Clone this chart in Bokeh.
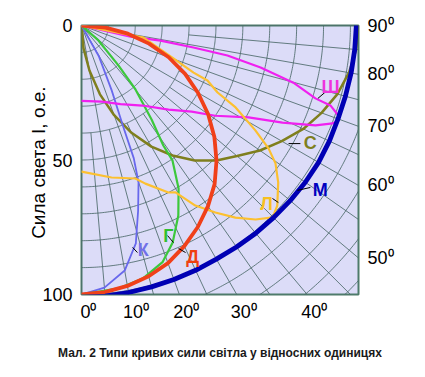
import numpy as np
from bokeh.plotting import figure
from bokeh.models import Range1d, ColumnDataSource, LabelSet, FixedTicker, LinearAxis
from bokeh.core.properties import value
from bokeh.embed import file_html
from bokeh.resources import INLINE

# ---------------- grid / tick values ----------------
grid_angles = list(range(0, 91, 5))          # degrees from nadir
grid_radii = list(range(10, 151, 10))        # relative intensity
y_ticks = [0, 50, 100]
bottom_angles = [0, 10, 20, 30, 40]
bottom_labels = ["0⁰", "10⁰", "20⁰", "30⁰", "40⁰"]
right_angles = [50, 60, 70, 80, 90]
right_labels = ["50⁰", "60⁰", "70⁰", "80⁰", "90⁰"]
X_MAX = 103.0

# ---------------- light distribution curves (angle deg, intensity) ----------------
D_ang = [0, 5, 10, 15, 20, 25, 30, 35, 40, 45, 50, 55, 60, 65, 70, 75, 80, 85, 90]
D_int = [100, 99.5, 98.3, 96.5, 94, 90.5, 86.5, 82, 77, 71, 64.5, 57.5, 50, 42.5, 34.5, 26, 17.5, 9, 0]

G_ang = [0, 8, 13.6, 18.9, 22.8, 27, 30.8, 34, 34.3, 36.7, 40.2, 42.8, 48.6, 52]
G_int = [100, 98.7, 96.8, 93, 87.5, 79.3, 70.5, 60.5, 54, 43.6, 31.1, 20.3, 8.4, 0]

K_ang = [0, 5, 10, 14, 17, 20, 21.5, 22.5, 25, 29.5, 33]
K_int = [100, 97.8, 92.5, 83.5, 72, 62, 53, 40, 26.5, 13, 0]

S_ang = [0, 5, 10, 15, 20, 25, 30, 35, 40, 45, 50, 55, 60, 65, 70, 75, 80, 85, 90]
S_int = [0, 8.5, 17, 26.5, 35.5, 44, 52, 59, 65.5, 71, 75.5, 81, 86, 91, 95, 98.5, 101, 102.5, 103]

M_ang = [0, 5, 10, 15, 20, 25, 30, 35, 40, 45, 50, 55, 60, 65, 70, 75, 80, 85, 90]
M_int = [101, 101, 100.8, 100.6, 100.5, 100.4, 100.3, 100.5, 100.8, 101, 101.3, 101.6, 101.8, 101.7,
         101.5, 101.6, 101.8, 102, 102.2]

SH_ang = [0, 15, 26.4, 37.3, 46, 52, 56, 61.2, 64.2, 66.9, 68.7, 69.7, 70.7, 72.2, 72.7, 74.9,
          76.8, 78.4, 78.9, 79.2, 77.3, 77]
SH_int = [28, 29.3, 32.6, 37.4, 45, 52, 60, 70.9, 83, 94.6, 100.2, 101.9, 101.2, 97.2, 91.1, 81.6,
          68.4, 55.4, 42.4, 29.9, 18.7, 0]

L_ang = [0, 11.2, 19.4, 22, 27.5, 29.4, 32.3, 35.6, 38.7, 41.9, 44.9, 47.4, 51.4, 54.6, 56.7,
         58.9, 62, 63.8, 66.4, 67.2, 70.3, 79, 80]
L_int = [54.3, 57.6, 60.3, 63.4, 70, 71.2, 79.2, 85.5, 91.5, 96.9, 100.7, 98.9, 93.6, 88.5, 83.2,
         75.5, 64.9, 56.4, 51.1, 45.2, 36.3, 23.5, 0]

# curve labels
lab_text = ["Ш", "С", "М", "Л", "Г", "Д", "К"]
lab_x = [92.6, 85.1, 88.8, 68.8, 32.3, 41.3, 23.0]
lab_y = [23.0, 43.5, 61.3, 66.2, 78.4, 85.9, 83.6]
lab_color = ["#ee33dd", "#7f7f1e", "#0000c0", "#f8c020", "#30c030", "#f04010", "#7070e8"]
lead_x0 = [90.5, 77.0, 80.3, 71.0, 32.0, 36.1, 19.0]
lead_y0 = [24.9, 43.9, 61.3, 64.3, 78.1, 82.9, 82.5]
lead_x1 = [87.9, 81.4, 85.1, 73.2, 34.2, 38.7, 20.8]
lead_y1 = [27.1, 43.9, 60.2, 65.8, 80.7, 84.4, 84.4]

CAPTION = "Мал. 2 Типи кривих сили світла у відносних одиницях"


def to_xy(ang, inten):
    a = np.radians(np.asarray(ang, dtype=float))
    r = np.asarray(inten, dtype=float)
    return r * np.sin(a), r * np.cos(a)


p = figure(frame_width=277, frame_height=269,
           x_range=Range1d(0, X_MAX), y_range=Range1d(100, 0),
           output_backend="svg", toolbar_location=None, x_axis_location=None,
           title=CAPTION, title_location="below",
           min_border_left=81, min_border_right=60, min_border_top=25, min_border_bottom=80)
p.background_fill_color = "#dcdcf8"
p.border_fill_color = "white"
p.outline_line_color = "#4e7b6b"
p.outline_line_width = 2
p.xgrid.visible = False
p.ygrid.visible = False
# label-placement range for the bottom angle labels (shifted right a little)
p.extra_x_ranges = {"lab": Range1d(-2.6, X_MAX - 2.6)}

# polar grid
gxs, gys = [], []
for a in grid_angles:
    r0 = 0 if a % 10 == 0 else 40
    x, y = to_xy([a, a], [r0, 160])
    gxs.append(list(x)); gys.append(list(y))
th = np.linspace(0, 90, 181)
for r in grid_radii:
    x, y = to_xy(th, np.full_like(th, r))
    gxs.append(list(x)); gys.append(list(y))
p.multi_line(gxs, gys, line_color="#4c6a6a", line_width=1, line_alpha=0.85)

curves = [
    (S_ang, S_int, "#7f7f1e", 2.5),
    (K_ang, K_int, "#6868ec", 1.8),
    (G_ang, G_int, "#3cc83c", 2.2),
    (SH_ang, SH_int, "#f020f0", 2.2),
    (L_ang, L_int, "#fcc030", 2.2),
    (D_ang, D_int, "#f0401a", 3.8),
    (M_ang, M_int, "#0000b4", 4.8),
]
for ang, inten, col, w in curves:
    x, y = to_xy(ang, inten)
    p.line(x, y, line_color=col, line_width=w, line_join="round", line_cap="round")

# leaders and curve names
p.segment(lead_x0, lead_y0, lead_x1, lead_y1, line_color="black", line_width=1)
lsrc = ColumnDataSource(dict(x=lab_x, y=lab_y, t=lab_text, c=lab_color))
p.add_layout(LabelSet(x="x", y="y", text="t", source=lsrc, text_color="c",
                      text_font=value("Liberation Sans"), text_font_size="18px",
                      text_font_style="bold", text_align="center", text_baseline="middle"))


def style_axis(ax):
    ax.axis_line_color = None
    ax.major_tick_line_color = None
    ax.minor_tick_line_color = None
    ax.major_label_text_font = "Liberation Sans"
    ax.major_label_text_font_size = "18px"
    ax.major_label_text_color = "black"


# left axis: intensity
ax = p.yaxis[0]
style_axis(ax)
ax.ticker = FixedTicker(ticks=y_ticks)
ax.major_label_standoff = 3
ax.axis_label = "Сила света  I, о.е."
ax.axis_label_text_font = "Liberation Sans"
ax.axis_label_text_font_size = "19px"
ax.axis_label_text_font_style = "normal"
ax.axis_label_text_color = "black"
ax.axis_label_standoff = -10

# bottom axis: angles where radials meet the lower edge
bx = [float(100 * np.tan(np.radians(a))) for a in bottom_angles]
bax = LinearAxis(ticker=FixedTicker(ticks=bx), x_range_name="lab",
                 major_label_overrides={v: t for v, t in zip(bx, bottom_labels)})
style_axis(bax)
bax.major_label_standoff = 1
p.add_layout(bax, "below")

# right axis: angles where radials meet the right edge
ry = [float(X_MAX / np.tan(np.radians(a))) for a in right_angles]
ry[-1] = 0.0
rax = LinearAxis(ticker=FixedTicker(ticks=ry),
                 major_label_overrides={v: t for v, t in zip(ry, right_labels)})
style_axis(rax)
rax.major_label_standoff = 3
p.add_layout(rax, "right")

p.title.text_font = "Liberation Sans"
p.title.text_font_size = "12px"
p.title.text_font_style = "bold"
p.title.text_color = "#1a1a1a"
p.title.align = "center"
p.title.standoff = 39

open("out.html", "w").write(file_html(p, INLINE))
